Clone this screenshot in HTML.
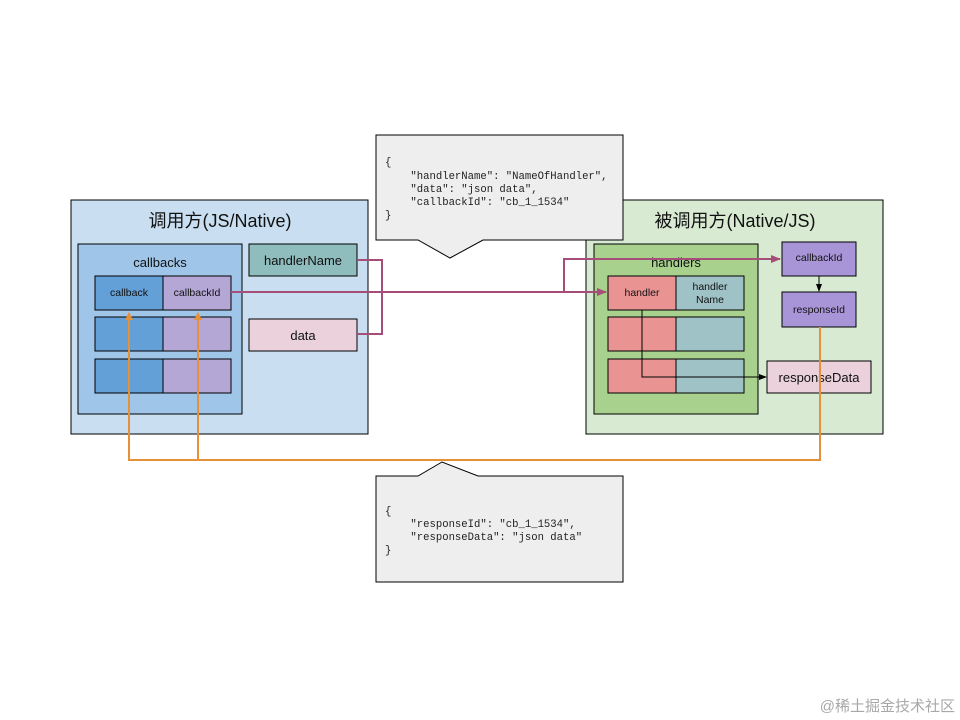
<!DOCTYPE html>
<html><head><meta charset="utf-8"><style>
html,body{margin:0;padding:0;background:#fff;width:960px;height:720px;overflow:hidden}
svg text{font-family:"Liberation Sans","Noto Sans CJK SC",sans-serif}
.m{font-family:"Liberation Mono","DejaVu Sans Mono",monospace;font-size:10.6px;fill:#222}
</style></head><body>
<svg width="960" height="720" viewBox="0 0 960 720" xmlns="http://www.w3.org/2000/svg">
<defs>
<marker id="ap" markerWidth="10" markerHeight="8" refX="9" refY="4" orient="auto" markerUnits="userSpaceOnUse"><path d="M0,0L10,4L0,8z" fill="#a64d79"/></marker>
<marker id="ab" markerWidth="8" markerHeight="6" refX="7" refY="3" orient="auto" markerUnits="userSpaceOnUse"><path d="M0,0L8,3L0,6z" fill="#000"/></marker>
<marker id="ao" markerWidth="8" markerHeight="8" refX="7" refY="4" orient="auto" markerUnits="userSpaceOnUse"><path d="M0,0L8,4L0,8z" fill="#e69138"/></marker>
</defs>
<!-- left -->
<rect x="71" y="200" width="297" height="234" fill="#c9dff1" stroke="#000"/>
<text x="220" y="227" font-size="18" text-anchor="middle" fill="#111">调用方(JS/Native)</text>
<rect x="78" y="244" width="164" height="170" fill="#9fc5e8" stroke="#000"/>
<text x="160" y="267" font-size="13" text-anchor="middle" fill="#111">callbacks</text>
<g stroke="#000">
<rect x="95" y="276" width="68" height="34" fill="#64a0d8"/><rect x="163" y="276" width="68" height="34" fill="#b4a7d6"/>
<rect x="95" y="317" width="68" height="34" fill="#64a0d8"/><rect x="163" y="317" width="68" height="34" fill="#b4a7d6"/>
<rect x="95" y="359" width="68" height="34" fill="#64a0d8"/><rect x="163" y="359" width="68" height="34" fill="#b4a7d6"/>
<rect x="249" y="244" width="108" height="32" fill="#8fbcbc"/>
<rect x="249" y="319" width="108" height="32" fill="#ead1dc"/>
</g>
<text x="129" y="296" font-size="10.5" text-anchor="middle" fill="#111">callback</text>
<text x="197" y="296" font-size="10.5" text-anchor="middle" fill="#111">callbackId</text>
<text x="303" y="265" font-size="13" text-anchor="middle" fill="#111">handlerName</text>
<text x="303" y="340" font-size="13" text-anchor="middle" fill="#111">data</text>
<!-- right -->
<rect x="586" y="200" width="297" height="234" fill="#d9ead3" stroke="#000"/>
<text x="735" y="227" font-size="18" text-anchor="middle" fill="#111">被调用方(Native/JS)</text>
<rect x="594" y="244" width="164" height="170" fill="#a9d18e" stroke="#000"/>
<text x="676" y="267" font-size="13" text-anchor="middle" fill="#111">handlers</text>
<g stroke="#000">
<rect x="608" y="276" width="68" height="34" fill="#ea9393"/><rect x="676" y="276" width="68" height="34" fill="#9fc2c7"/>
<rect x="608" y="317" width="68" height="34" fill="#ea9393"/><rect x="676" y="317" width="68" height="34" fill="#9fc2c7"/>
<rect x="608" y="359" width="68" height="34" fill="#ea9393"/><rect x="676" y="359" width="68" height="34" fill="#9fc2c7"/>
<rect x="782" y="242" width="74" height="34" fill="#a895d8"/>
<rect x="782" y="292" width="74" height="35" fill="#a895d8"/>
<rect x="767" y="361" width="104" height="32" fill="#ead1dc"/>
</g>
<text x="642" y="296" font-size="10.5" text-anchor="middle" fill="#111">handler</text>
<text x="710" y="290" font-size="10.5" text-anchor="middle" fill="#111">handler</text>
<text x="710" y="303" font-size="10.5" text-anchor="middle" fill="#111">Name</text>
<text x="819" y="261" font-size="10.5" text-anchor="middle" fill="#111">callbackId</text>
<text x="819" y="313" font-size="10.5" text-anchor="middle" fill="#111">responseId</text>
<text x="819" y="382" font-size="13" text-anchor="middle" fill="#111">responseData</text>
<!-- bubbles -->
<path d="M376,135H623V240H483L450,258L418,240H376Z" fill="#eeeeee" stroke="#000"/>
<text class="m" x="385" y="165">{</text>
<text class="m" x="385" y="179" xml:space="preserve">    "handlerName": "NameOfHandler",</text>
<text class="m" x="385" y="192" xml:space="preserve">    "data": "json data",</text>
<text class="m" x="385" y="205" xml:space="preserve">    "callbackId": "cb_1_1534"</text>
<text class="m" x="385" y="218">}</text>
<path d="M376,476H418L442,462L478,476H623V582H376Z" fill="#eeeeee" stroke="#000"/>
<text class="m" x="385" y="514">{</text>
<text class="m" x="385" y="527" xml:space="preserve">    "responseId": "cb_1_1534",</text>
<text class="m" x="385" y="540" xml:space="preserve">    "responseData": "json data"</text>
<text class="m" x="385" y="553">}</text>
<!-- connectors -->
<g fill="none" stroke="#a64d79" stroke-width="2">
<path d="M357,260H382V334H357"/>
<path d="M231,292H606" marker-end="url(#ap)"/>
<path d="M564,292V259H780" marker-end="url(#ap)"/>
</g>
<path d="M819,276V291" stroke="#000" marker-end="url(#ab)"/>
<path d="M642,310V377H766" fill="none" stroke="#000" marker-end="url(#ab)"/>
<g fill="none" stroke="#e69138" stroke-width="2">
<path d="M820,327V460H129V313" marker-end="url(#ao)"/>
<path d="M198,460V313" marker-end="url(#ao)"/>
</g>
<text x="955" y="711" font-size="15" text-anchor="end" fill="#a8a8a8">@稀土掘金技术社区</text>
</svg>
</body></html>
